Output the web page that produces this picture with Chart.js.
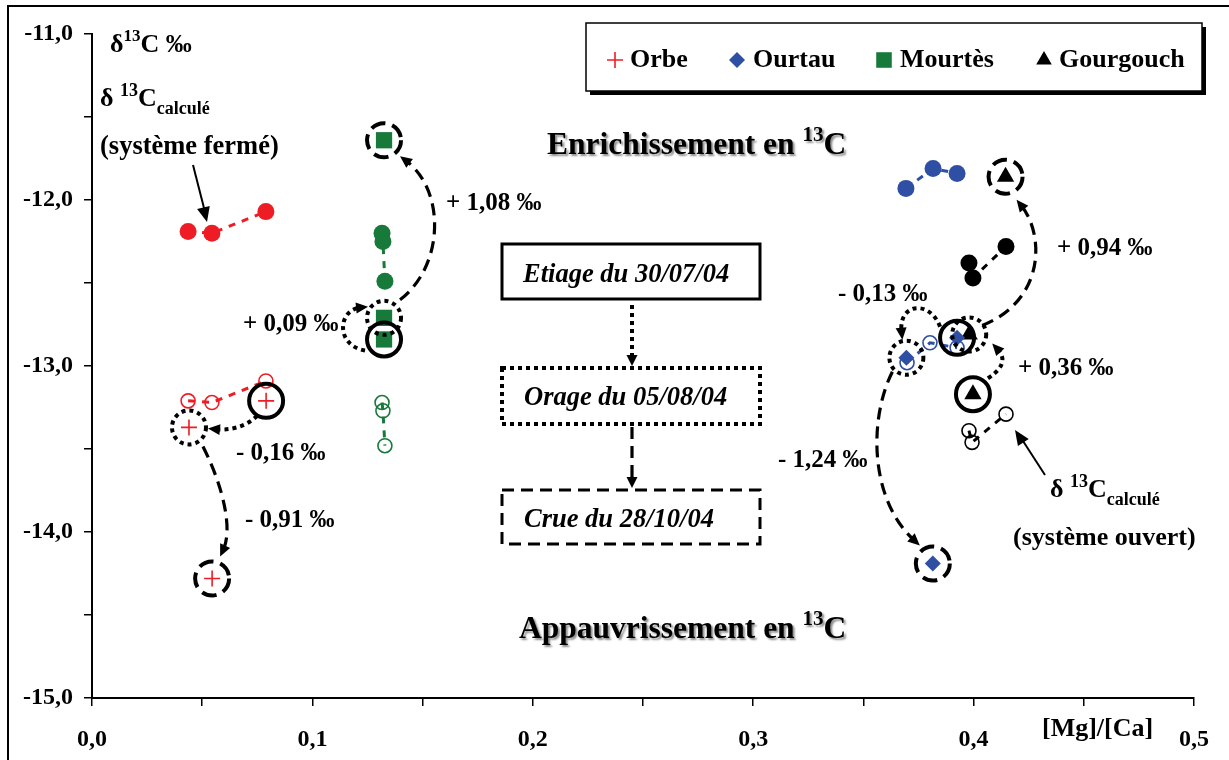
<!DOCTYPE html>
<html><head><meta charset="utf-8">
<script src="https://cdn.jsdelivr.net/npm/chart.js@4/dist/chart.umd.min.js"></script>
<style>html,body{margin:0;padding:0;background:#fff;}canvas{display:block;}</style>
</head><body>
<canvas id="c" width="1229" height="760"></canvas>
<script>
// ---------- DATA ----------
const seriesNames = ['Orbe', 'Ourtau', 'Mourtès', 'Gourgouch'];
const eventLabels = ['Etiage du 30/07/04', 'Orage du 05/08/04', 'Crue du 28/10/04'];

// measured δ13C, order: etiage, orage, crue
const orbeX = [0.079, 0.044, 0.0545];
const orbeY = [-13.21, -13.37, -14.28];
const ourtauX = [0.3925, 0.3695, 0.3815];
const ourtauY = [-12.83, -12.95, -14.19];
const mourtesX = [0.1325, 0.1325, 0.1325];
const mourtesY = [-12.84, -12.71, -11.64];
const gourgouchX = [0.3997, 0.398, 0.4145];
const gourgouchY = [-13.17, -12.81, -11.86];

// calculated δ13C, closed system (sorted by [Mg]/[Ca])
const orbeClosedX = [0.0436, 0.0544, 0.0789];
const orbeClosedY = [-12.19, -12.20, -12.07];
const ourtauClosedX = [0.3693, 0.3816, 0.3925];
const ourtauClosedY = [-11.93, -11.81, -11.84];
const mourtesClosedX = [0.1316, 0.1320, 0.1329];
const mourtesClosedY = [-12.20, -12.25, -12.49];
const gourgouchClosedX = [0.3979, 0.3997, 0.4147];
const gourgouchClosedY = [-12.38, -12.47, -12.28];

// calculated δ13C, open system
const orbeOpenX = [0.0436, 0.0544, 0.0789];
const orbeOpenY = [-13.21, -13.22, -13.09];
const ourtauOpenX = [0.3698, 0.3802, 0.3925];
const ourtauOpenY = [-12.98, -12.86, -12.89];
const mourtesOpenX = [0.1316, 0.1320, 0.1329];
const mourtesOpenY = [-13.22, -13.27, -13.48];
const gourgouchOpenX = [0.3979, 0.3993, 0.4147];
const gourgouchOpenY = [-13.39, -13.46, -13.29];

// shifts between events (‰)
const shiftLabels = {
  Orbe: ['- 0,16 ‰', '- 0,91 ‰'],
  Ourtau: ['- 0,13 ‰', '- 1,24 ‰'],
  Mourtes: ['+ 0,09 ‰', '+ 1,08 ‰'],
  Gourgouch: ['+ 0,36 ‰', '+ 0,94 ‰']
};

const xTickValues = [0, 0.1, 0.2, 0.3, 0.4, 0.5];
const xTickLabels = ['0,0', '0,1', '0,2', '0,3', '0,4', '0,5'];
const yTickValues = [-15, -14, -13, -12, -11];
const yTickLabels = ['-15,0', '-14,0', '-13,0', '-12,0', '-11,0'];

// ---------- STYLE ----------
const RED = '#EE1D25', BLUE = '#2E4FA3', GREEN = '#177A3B', BLACK = '#000000';
const SERIF = '"Liberation Serif", "Times New Roman", serif';
const pts = (xs, ys) => xs.map((x, i) => ({ x, y: ys[i] }));

function measured(label, xs, ys, color, style, radius, bw) {
  return { label, data: pts(xs, ys), showLine: false, pointStyle: style, pointRadius: radius,
    pointBorderWidth: bw, pointBackgroundColor: color, pointBorderColor: color, order: 0 };
}
function calc(label, xs, ys, color, filled) {
  return { label, data: pts(xs, ys), showLine: true, borderColor: color, borderWidth: 3,
    borderDash: [7, 7], pointStyle: 'circle', pointRadius: filled ? 8.5 : 7,
    pointBorderWidth: filled ? 0 : 1.6, pointBackgroundColor: filled ? color : 'rgba(0,0,0,0)',
    pointBorderColor: color, order: 1 };
}

const datasets = [
  measured(seriesNames[0], orbeX, orbeY, RED, 'cross', 8, 1.6),
  measured(seriesNames[1], ourtauX, ourtauY, BLUE, 'rectRot', 8, 0),
  measured(seriesNames[2], mourtesX, mourtesY, GREEN, 'rect', 11.5, 0),
  measured(seriesNames[3], gourgouchX, gourgouchY, BLACK, 'triangle', 10, 0),
  calc('Orbe fermé', orbeClosedX, orbeClosedY, RED, true),
  calc('Ourtau fermé', ourtauClosedX, ourtauClosedY, BLUE, true),
  calc('Mourtès fermé', mourtesClosedX, mourtesClosedY, GREEN, true),
  calc('Gourgouch fermé', gourgouchClosedX, gourgouchClosedY, BLACK, true),
  calc('Orbe ouvert', orbeOpenX, orbeOpenY, RED, false),
  calc('Ourtau ouvert', ourtauOpenX, ourtauOpenY, BLUE, false),
  calc('Mourtès ouvert', mourtesOpenX, mourtesOpenY, GREEN, false),
  calc('Gourgouch ouvert', gourgouchOpenX, gourgouchOpenY, BLACK, false)
];

// event arrows: offsets in pixels relative to the data points they join
const arrows = [
  { ds: 0, from: 0, to: 1, kind: 'dot', s: [-9, 15], c1: [-21, 27], c2: [39, 3], e: [19, 1] },
  { ds: 0, from: 1, to: 2, kind: 'dash', s: [14, 19], c1: [36, 63], c2: [20, -48], e: [8, -22] },
  { ds: 2, from: 0, to: 1, kind: 'dot', s: [-19, 11], c1: [-49, 6], c2: [-46, -8], e: [-16, -11] },
  { ds: 2, from: 1, to: 2, kind: 'dash', s: [16, -18], c1: [61, -53], c2: [61, 50], e: [16, 16] },
  { ds: 1, from: 0, to: 1, kind: 'dot', s: [-17, -11], c1: [-27, -38], c2: [-8, -55], e: [-4, -18] },
  { ds: 1, from: 1, to: 2, kind: 'dash', s: [-14, 14], c1: [-38, 62], c2: [-63, -64], e: [-13, -18] },
  { ds: 3, from: 0, to: 1, kind: 'dot', s: [15, -16], c1: [35, -29], c2: [34, 21], e: [23, 9] },
  { ds: 3, from: 1, to: 2, kind: 'dash', s: [13, -9], c1: [76, -34], c2: [39, 58], e: [11, 23] }
];

function font(size, italic) { return (italic ? 'italic ' : '') + 'bold ' + size + 'px ' + SERIF; }

function rich(ctx, x, y, parts, align) {
  let w = 0;
  for (const p of parts) { ctx.font = font(p.size, p.italic); w += ctx.measureText(p.t).width; }
  let cx = align === 'right' ? x - w : (align === 'center' ? x - w / 2 : x);
  ctx.textAlign = 'left';
  ctx.textBaseline = 'alphabetic';
  for (const p of parts) {
    ctx.font = font(p.size, p.italic);
    ctx.fillText(p.t, cx, y + (p.dy || 0));
    cx += ctx.measureText(p.t).width;
  }
}

function arrowHead(ctx, x, y, ang, len, wid) {
  ctx.save();
  ctx.setLineDash([]);
  ctx.translate(x, y);
  ctx.rotate(ang);
  ctx.beginPath();
  ctx.moveTo(0, 0);
  ctx.lineTo(-len, -wid / 2);
  ctx.lineTo(-len, wid / 2);
  ctx.closePath();
  ctx.fill();
  ctx.restore();
}

function styleFor(ctx, kind) {
  if (kind === 'dot') { ctx.lineWidth = 4; ctx.setLineDash([4, 4]); ctx.lineCap = 'butt'; }
  else if (kind === 'dash') { ctx.lineWidth = 3.2; ctx.setLineDash([12, 7]); ctx.lineCap = 'butt'; }
  else { ctx.lineWidth = 3.5; ctx.setLineDash([]); }
}

const annot = {
  id: 'annot',
  beforeDraw(chart) {
    const ctx = chart.ctx;
    ctx.save();
    ctx.fillStyle = '#fff';
    ctx.fillRect(0, 0, chart.width, chart.height);
    ctx.strokeStyle = '#000';
    ctx.lineWidth = 2;
    ctx.beginPath();
    ctx.moveTo(8, chart.height + 5); ctx.lineTo(8, 6); ctx.lineTo(chart.width + 5, 6);
    ctx.stroke();
    ctx.restore();
  },
  afterDatasetsDraw(chart) {
    const ctx = chart.ctx;
    const xs = chart.scales.x, ys = chart.scales.y;
    const P = (d) => [xs.getPixelForValue(d.x), ys.getPixelForValue(d.y)];
    ctx.save();
    ctx.strokeStyle = '#000';
    ctx.fillStyle = '#000';

    // highlight circles around measured points: etiage solid, orage dotted, crue dashed
    const kinds = ['solid', 'dot', 'dash'];
    for (let d = 0; d < 4; d++) {
      chart.data.datasets[d].data.forEach((pt, i) => {
        const [px, py] = P(pt);
        styleFor(ctx, kinds[i]);
        ctx.lineWidth = 4;
        if (kinds[i] === 'dash') ctx.setLineDash([15, 7]);
        ctx.beginPath();
        ctx.arc(px, py, 17, 0, Math.PI * 2);
        ctx.stroke();
      });
    }

    // arrows between events
    for (const a of arrows) {
      const data = chart.data.datasets[a.ds].data;
      const [fx, fy] = P(data[a.from]);
      const [tx, ty] = P(data[a.to]);
      const sx = fx + a.s[0], sy = fy + a.s[1];
      const c1x = fx + a.c1[0], c1y = fy + a.c1[1];
      const c2x = tx + a.c2[0], c2y = ty + a.c2[1];
      const ex = tx + a.e[0], ey = ty + a.e[1];
      const ang = Math.atan2(ey - c2y, ex - c2x);
      styleFor(ctx, a.kind);
      ctx.beginPath();
      ctx.moveTo(sx, sy);
      ctx.bezierCurveTo(c1x, c1y, c2x, c2y, ex - Math.cos(ang) * 8, ey - Math.sin(ang) * 8);
      ctx.stroke();
      arrowHead(ctx, ex, ey, ang, 12, 11);
    }

    // event legend boxes
    const boxes = [
      { kind: 'solid', x: 502, y: 244, w: 258, h: 55, tx: 523, ty: 282 },
      { kind: 'dot', x: 502, y: 368, w: 258, h: 56, tx: 524, ty: 405 },
      { kind: 'dash', x: 502, y: 490, w: 258, h: 54, tx: 524, ty: 527 }
    ];
    boxes.forEach((b, i) => {
      styleFor(ctx, b.kind);
      if (b.kind === 'solid') ctx.lineWidth = 3;
      if (b.kind === 'dash') ctx.lineWidth = 3;
      ctx.strokeRect(b.x, b.y, b.w, b.h);
      ctx.setLineDash([]);
      rich(ctx, b.tx, b.ty, [{ t: eventLabels[i], size: 26.5, italic: true }]);
    });
    // vertical arrows between boxes
    styleFor(ctx, 'dot');
    ctx.beginPath(); ctx.moveTo(632, 305); ctx.lineTo(632, 356); ctx.stroke();
    arrowHead(ctx, 632, 366, Math.PI / 2, 11, 11);
    styleFor(ctx, 'dash');
    ctx.beginPath(); ctx.moveTo(632, 427); ctx.lineTo(632, 478); ctx.stroke();
    arrowHead(ctx, 632, 488, Math.PI / 2, 11, 11);

    // pointer arrows to calculated values
    ctx.setLineDash([]);
    ctx.lineWidth = 2;
    ctx.beginPath(); ctx.moveTo(193, 165); ctx.lineTo(204, 208); ctx.stroke();
    arrowHead(ctx, 207, 222, Math.atan2(57, 14), 15, 13);
    ctx.beginPath(); ctx.moveTo(1045, 475); ctx.lineTo(1023, 441); ctx.stroke();
    arrowHead(ctx, 1015, 430, Math.atan2(-45, -30), 15, 13);

    // shift labels
    const L = 25;
    const lab = [
      [shiftLabels.Mourtes[1], 446, 210], [shiftLabels.Mourtes[0], 243, 331],
      [shiftLabels.Orbe[0], 236, 460], [shiftLabels.Orbe[1], 245, 527],
      [shiftLabels.Gourgouch[1], 1057, 255], [shiftLabels.Ourtau[0], 838, 301],
      [shiftLabels.Gourgouch[0], 1018, 375], [shiftLabels.Ourtau[1], 778, 467]
    ];
    lab.forEach(([t, x, y]) => rich(ctx, x, y, [{ t, size: L }]));

    // axis titles and notes
    rich(ctx, 110, 52, [{ t: 'δ', size: 26 }, { t: '13', size: 17, dy: -11 }, { t: 'C ‰', size: 26 }]);
    const calcParts = [{ t: 'δ ', size: 26 }, { t: '13', size: 18, dy: -10 }, { t: 'C', size: 26 }, { t: 'calculé', size: 18, dy: 8 }];
    rich(ctx, 100, 106, calcParts);
    rich(ctx, 100, 154, [{ t: '(système fermé)', size: 26.5 }]);
    rich(ctx, 1050, 497, calcParts);
    rich(ctx, 1013, 545, [{ t: '(système ouvert)', size: 26 }]);
    rich(ctx, 1042, 736, [{ t: '[Mg]/[Ca]', size: 26 }]);

    // big shadowed labels
    ctx.save();
    ctx.shadowColor = 'rgba(0,0,0,0.45)';
    ctx.shadowOffsetX = 2; ctx.shadowOffsetY = 2; ctx.shadowBlur = 2;
    rich(ctx, 547, 154, [{ t: 'Enrichissement en ', size: 31.5 }, { t: '13', size: 21, dy: -13 }, { t: 'C', size: 31.5 }]);
    rich(ctx, 519, 638, [{ t: 'Appauvrissement en ', size: 31.5 }, { t: '13', size: 21, dy: -13 }, { t: 'C', size: 31.5 }]);
    ctx.restore();

    // series legend
    ctx.setLineDash([]);
    ctx.fillStyle = '#000';
    ctx.fillRect(590, 27, 616, 68);
    ctx.fillStyle = '#fff';
    ctx.fillRect(586, 23, 616, 68);
    ctx.lineWidth = 1.5;
    ctx.strokeRect(586, 23, 616, 68);
    const legX = [[615, 630], [737, 753], [884, 900], [1044, 1059]];
    for (let d = 0; d < 4; d++) {
      const ds = chart.data.datasets[d];
      const r = d === 0 ? 8 : (d === 1 ? 8 : (d === 2 ? 11 : 9));
      ctx.fillStyle = ds.pointBackgroundColor;
      ctx.strokeStyle = ds.pointBorderColor;
      ctx.lineWidth = ds.pointBorderWidth || 1;
      Chart.helpers.drawPoint(ctx, { pointStyle: ds.pointStyle, radius: r, rotation: 0, borderWidth: ds.pointBorderWidth }, legX[d][0], 60);
      ctx.fillStyle = '#000';
      rich(ctx, legX[d][1], 67, [{ t: seriesNames[d], size: 26 }]);
    }
    ctx.restore();
  }
};

const findLabel = (vals, labels, v) => {
  const i = vals.findIndex(t => Math.abs(t - v) < 1e-6);
  return i >= 0 ? labels[i] : '';
};

new Chart(document.getElementById('c'), {
  type: 'scatter',
  data: { datasets },
  options: {
    responsive: false,
    animation: false,
    events: [],
    layout: { padding: { top: 34, right: 35, left: 0, bottom: 0 } },
    plugins: { legend: { display: false }, tooltip: { enabled: false } },
    scales: {
      x: {
        type: 'linear', min: 0, max: 0.5,
        afterFit(s) { s.height = 62; },
        grid: { drawOnChartArea: false, drawTicks: true, tickLength: 8, color: '#000', lineWidth: 1.5 },
        border: { display: true, color: '#000', width: 2 },
        ticks: { stepSize: 0.05, autoSkip: false, maxRotation: 0, padding: 19, color: '#000',
          font: { family: SERIF, size: 24, weight: 'bold' },
          callback: v => findLabel(xTickValues, xTickLabels, v) }
      },
      y: {
        type: 'linear', min: -15, max: -11,
        afterFit(s) { s.width = 92; },
        grid: { drawOnChartArea: false, drawTicks: true, tickLength: 8, color: '#000', lineWidth: 1.5 },
        border: { display: true, color: '#000', width: 2 },
        ticks: { stepSize: 0.5, autoSkip: false, padding: 11, color: '#000',
          font: { family: SERIF, size: 24, weight: 'bold' },
          callback: v => findLabel(yTickValues, yTickLabels, v) }
      }
    }
  },
  plugins: [annot]
});
</script>
</body></html>
